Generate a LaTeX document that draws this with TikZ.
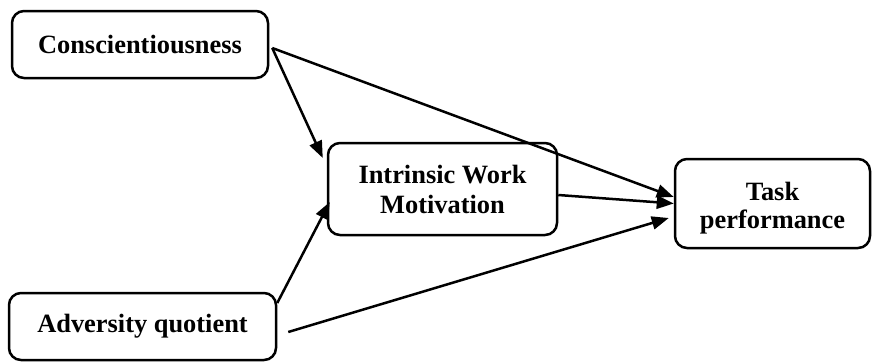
\documentclass[tikz,border=0pt]{standalone}
\usepackage{fontspec}
\setmainfont{Liberation Serif}
\usetikzlibrary{arrows.meta}
\begin{document}
\begin{tikzpicture}[x=1pt,y=-1pt,
  box/.style={draw,line width=2.5pt,rounded corners=12pt,inner sep=0pt,
    font=\fontsize{26.4}{30}\selectfont\bfseries,align=center},
  conn/.style={line width=2.5pt,-{Triangle[length=17pt,width=13pt]}}]
\useasboundingbox (0,0) rectangle (872,362);
\node[box,minimum width=256pt,minimum height=67pt] (c) at (140,44.5) {Conscientiousness};
\node[box,minimum width=229pt,minimum height=92pt] (i) at (442.5,189) {Intrinsic Work\\Motivation};
\node[box,minimum width=195pt,minimum height=89pt,align=none] (t) at (772.5,203.5)
  {\raisebox{-11.5pt}[0pt][0pt]{\begin{tabular}{@{}c@{}}Task\\[-2pt]performance\end{tabular}}};
\node[box,minimum width=267pt,minimum height=67pt] (a) at (142.5,326.5) {Adversity quotient};
\draw[conn] ([xshift=3pt,yshift=-3.5pt]c.east) -- ([xshift=-4pt,yshift=31pt]i.west);
\draw[conn] ([xshift=3pt,yshift=-3.5pt]c.east) -- ([yshift=6.5pt]t.west);
\draw[conn] ([yshift=-6pt]i.east) -- (t.west);
\draw[conn] ([yshift=23.5pt]a.east) -- ([xshift=3pt,yshift=-13pt]i.west);
\draw[conn] ([xshift=11pt,yshift=-5.5pt]a.east) -- ([xshift=-5pt,yshift=-14.5pt]t.west);
\end{tikzpicture}
\end{document}
